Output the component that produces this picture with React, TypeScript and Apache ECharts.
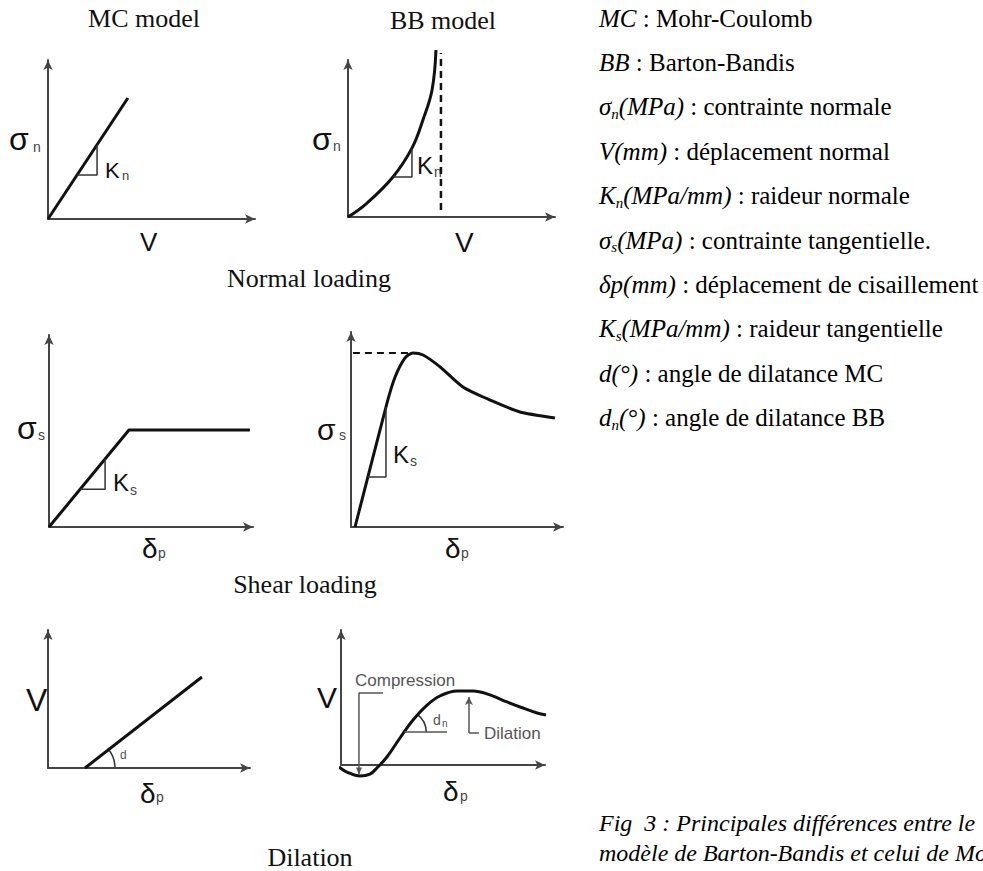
import React, { useEffect, useRef } from "react";
import * as echarts from "echarts";

const SERIF = "'Liberation Serif', 'Times New Roman', serif";
const SANS = "'Liberation Sans', Arial, sans-serif";
const INK = "#111";
const AXIS = "#444";
const NOTE = "#555";

// ---------- data (each panel uses axis units 0..100) ----------
// Panel 1 : MC model, normal loading (sigma_n vs V)
const mcNormalLine = [[0, 0], [38.6, 76.1]];
const mcNormalTri = [[14.0, 27.6], [23.7, 27.6], [23.7, 46.7]];
// Panel 2 : BB model, normal loading
const bbNormalCurve = [[0, 0], [9.2, 8.9], [21.7, 25.5], [30.9, 43.9], [36.2, 61.8], [40.6, 80.9], [42.5, 106.4]];
const bbNormalAsymptote = [[44.9, 4.5], [44.9, 104.5]];
const bbNormalTri = [[21.7, 25.5], [30.9, 25.5], [30.9, 43.9]];
// Panel 3 : MC model, shear loading
const mcShearLine = [[0, 0], [39.2, 50.5], [98.5, 50.5]];
const mcShearTri = [[15.2, 19.6], [27.5, 19.6], [27.5, 35.4]];
// Panel 4 : BB model, shear loading
const bbShearCurve = [[1.9, 0], [17.0, 63.6], [20.8, 76.9], [25.5, 86.7], [29.2, 89.2], [34.0, 88.2], [42.0, 82.1], [52.8, 71.8], [65.6, 65.1], [79.7, 59.0], [96.2, 55.9]];
const bbShearPeak = [[0.9, 89.2], [29.2, 89.2]];
const bbShearTri = [[8.0, 25.6], [16.5, 25.6], [16.5, 61.5]];
// Panel 5 : MC model, dilation
const mcDilLine = [[18.3, 0], [76.2, 65.9]];
// Panel 6 : BB model, dilation
const bbDilCurve = [[-1.0, -1.5], [2.9, -5.2], [9.3, -8.1], [14.2, -6.7], [17.6, -2.2], [22.5, 5.9], [28.9, 20.0], [35.3, 33.3], [42.2, 44.4], [48.5, 51.1], [56.9, 54.8], [64.7, 54.8], [73.0, 51.9], [81.4, 46.7], [89.2, 42.2], [96.1, 38.5], [100.5, 37.0]];
const bbDilCompression = [[20.6, 53.3], [8.8, 53.3], [8.8, -7.0]];
const bbDilAngleBase = [[31.0, 24.4], [52.0, 24.4]];
const bbDilTick = [[67.6, 23.7], [62.7, 23.7]];
const bbDilArrow = [[62.7, 23.7], [62.7, 50.4]];

const panelTitles = ["MC model", "BB model"];
const sectionTitles = ["Normal loading", "Shear loading", "Dilation"];

const legendRows = [
  { term: "MC", sub: "", unit: "", desc: "Mohr-Coulomb" },
  { term: "BB", sub: "", unit: "", desc: "Barton-Bandis" },
  { term: "σ", sub: "n", unit: "(MPa)", desc: "contrainte normale" },
  { term: "V(mm)", sub: "", unit: "", desc: "déplacement normal" },
  { term: "K", sub: "n", unit: "(MPa/mm)", desc: "raideur normale" },
  { term: "σ", sub: "s", unit: "(MPa)", desc: "contrainte tangentielle." },
  { term: "δp(mm)", sub: "", unit: "", desc: "déplacement de cisaillement" },
  { term: "K", sub: "s", unit: "(MPa/mm)", desc: "raideur tangentielle" },
  { term: "d(°)", sub: "", unit: "", desc: "angle de dilatance MC" },
  { term: "d", sub: "n", unit: "(°)", desc: "angle de dilatance BB" },
];
const captionLines = [
  "Fig\u00a0\u00a03 : Principales différences entre le",
  "modèle de Barton-Bandis et celui de Mohr-Coulomb",
];

// ---------- layout ----------
const grids = [
  { left: 48, top: 60, width: 207, height: 159 },
  { left: 348, top: 60, width: 207, height: 157 },
  { left: 49, top: 335, width: 204, height: 192 },
  { left: 351, top: 332, width: 212, height: 195 },
  { left: 48, top: 630, width: 202, height: 138 },
  { left: 341, top: 630, width: 204, height: 135 },
];

function txt(x: number, y: number, text: string, fontSize: number, o: any = {}) {
  const align = o.align || "left";
  return {
    type: "text",
    x,
    y,
    silent: true,
    style: {
      text,
      fontSize,
      fontFamily: o.family || SANS,
      fontStyle: o.italic ? "italic" : "normal",
      fill: o.fill || INK,
      textAlign: align,
      align,
      textVerticalAlign: "middle",
      verticalAlign: "middle",
      rich: o.rich,
    },
  };
}

function axisPair(i: number) {
  const line = {
    show: true,
    onZero: false,
    symbol: ["none", "arrow"],
    symbolSize: [7, 10],
    lineStyle: { color: AXIS, width: 2 },
  };
  const common = {
    gridIndex: i,
    type: "value",
    min: 0,
    max: 100,
    axisLine: line,
    axisTick: { show: false },
    axisLabel: { show: false },
    splitLine: { show: false },
  };
  return { x: { ...common }, y: { ...common } };
}

function ser(i: number, data: number[][], lineStyle: any, extra: any = {}) {
  return {
    type: "line",
    xAxisIndex: i,
    yAxisIndex: i,
    data,
    symbol: "none",
    showSymbol: false,
    clip: false,
    silent: true,
    animation: false,
    lineStyle,
    ...extra,
  };
}

const curve = { color: INK, width: 3 };
const thin = { color: "#333", width: 1.5 };
const note = { color: NOTE, width: 1.5 };
const dashed = { color: INK, width: 2.5, type: [7, 5] };

function arrowMark(pts: number[][]) {
  return {
    markLine: {
      silent: true,
      animation: false,
      symbol: ["none", "arrow"],
      symbolSize: [6, 8],
      label: { show: false },
      lineStyle: { color: NOTE, width: 1.5, type: "solid" },
      data: [[{ coord: pts[0] }, { coord: pts[1] }]],
    },
  };
}

export default function App() {
  const ref = useRef<HTMLDivElement>(null);
  useEffect(() => {
    const chart = echarts.init(ref.current!, null, { renderer: "svg" });
    const axes = grids.map((_, i) => axisPair(i));
    const series = [
      ser(0, mcNormalLine, curve),
      ser(0, mcNormalTri, thin),
      ser(1, bbNormalCurve, curve, { smooth: 0.4 }),
      ser(1, bbNormalAsymptote, dashed),
      ser(1, bbNormalTri, thin),
      ser(2, mcShearLine, curve),
      ser(2, mcShearTri, thin),
      ser(3, bbShearCurve, curve, { smooth: 0.25 }),
      ser(3, bbShearPeak, { color: INK, width: 2, type: [7, 5] }),
      ser(3, bbShearTri, thin),
      ser(4, mcDilLine, curve),
      ser(5, bbDilCurve, curve, { smooth: 0.4 }),
      ser(5, bbDilCompression, note),
      ser(5, bbDilAngleBase, note),
      ser(5, bbDilTick, note, arrowMark(bbDilArrow)),
    ];
    chart.setOption({
      animation: false,
      backgroundColor: "#fff",
      grid: grids.map((g) => ({ ...g, containLabel: false })),
      xAxis: axes.map((a) => a.x),
      yAxis: axes.map((a) => a.y),
      series,
    });

    const px = (g: number, p: number[]) => chart.convertToPixel({ gridIndex: g } as any, p) as number[];
    const arc = (g: number, c: number[], dir: number[], r: number) => {
      const a = px(g, c);
      const b = px(g, dir);
      const ang = Math.atan2(b[1] - a[1], b[0] - a[0]);
      return {
        type: "arc",
        silent: true,
        shape: { cx: a[0], cy: a[1], r, startAngle: ang, endAngle: 0, clockwise: true },
        style: { stroke: "#333", lineWidth: 1.5, fill: null },
      };
    };
    const tip = px(5, bbDilCompression[2]);
    const downArrow = {
      type: "polygon",
      silent: true,
      shape: { points: [[tip[0], tip[1]], [tip[0] - 3, tip[1] - 7], [tip[0] + 3, tip[1] - 7]] },
      style: { fill: NOTE },
    };

    const rich = {
      i: { fontFamily: SERIF, fontStyle: "italic", fontSize: 25, lineHeight: 29, fill: "#000" },
      s: { fontFamily: SERIF, fontStyle: "italic", fontSize: 15, lineHeight: 17, verticalAlign: "bottom", fill: "#000" },
      n: { fontFamily: SERIF, fontSize: 25, lineHeight: 29, fill: "#000" },
    };
    const legendEls = legendRows.map((r, k) => {
      const head = r.sub ? `{i|${r.term}}{s|${r.sub}}{i|${r.unit}}` : `{i|${r.term}}`;
      return txt(599, 18 + k * 44.4, `${head}{n|\u00a0:\u00a0${r.desc}}`, 25, { family: SERIF, rich });
    });

    const S = 14;
    const elements: any[] = [
      txt(144, 18, panelTitles[0], 26, { family: SERIF, align: "center" }),
      txt(443, 20, panelTitles[1], 26, { family: SERIF, align: "center" }),
      txt(309, 278, sectionTitles[0], 26, { family: SERIF, align: "center" }),
      txt(305, 584, sectionTitles[1], 26, { family: SERIF, align: "center" }),
      txt(310, 857, sectionTitles[2], 26, { family: SERIF, align: "center" }),
      // panel 1
      txt(9, 139, "σ", 32),
      txt(33, 147, "n", S, { fill: "#444" }),
      txt(105, 170, "K", 22),
      txt(122, 175, "n", 13, { fill: "#444" }),
      txt(140, 242, "V", 26),
      // panel 2
      txt(312, 139, "σ", 32),
      txt(333, 146, "n", S, { fill: "#444" }),
      txt(417, 165, "K", 24),
      txt(434, 172, "n", S, { fill: "#444" }),
      txt(455, 242, "V", 28),
      // panel 3
      txt(17, 428, "σ", 32),
      txt(38, 435, "s", S, { fill: "#444" }),
      txt(113, 482, "K", 24),
      txt(130, 490, "s", S, { fill: "#444" }),
      txt(142, 548, "δ", 28),
      txt(158, 553, "p", S, { fill: "#444" }),
      // panel 4
      txt(317, 429, "σ", 30),
      txt(339, 435, "s", S, { fill: "#444" }),
      txt(393, 454, "K", 24),
      txt(410, 461, "s", S, { fill: "#444" }),
      txt(445, 548, "δ", 28),
      txt(461, 553, "p", S, { fill: "#444" }),
      // panel 5
      txt(26, 700, "V", 32),
      txt(120, 755, "d", 12, { fill: NOTE }),
      txt(140, 793, "δ", 28),
      txt(156, 797, "p", S, { fill: "#444" }),
      arc(4, mcDilLine[0], mcDilLine[1], 30),
      // panel 6
      txt(317, 697, "V", 30),
      txt(443, 791, "δ", 28),
      txt(460, 796, "p", S, { fill: "#444" }),
      txt(355, 680, "Compression", 17, { fill: NOTE }),
      txt(433, 720, "d", 14, { fill: NOTE }),
      txt(442, 723, "n", 10, { fill: NOTE }),
      txt(484, 733, "Dilation", 17, { fill: NOTE }),
      arc(5, bbDilAngleBase[0], bbDilCurve[7], 22),
      downArrow,
      ...legendEls,
      txt(599, 823, captionLines[0], 24, { family: SERIF, italic: true, fill: "#000" }),
      txt(599, 853, captionLines[1], 24, { family: SERIF, italic: true, fill: "#000" }),
    ];
    chart.setOption({ graphic: { elements } });
    return () => chart.dispose();
  }, []);
  return (
    <div
      ref={ref}
      style={{ position: "fixed", left: 0, top: 0, width: 983, height: 871, background: "#fff" }}
    />
  );
}
